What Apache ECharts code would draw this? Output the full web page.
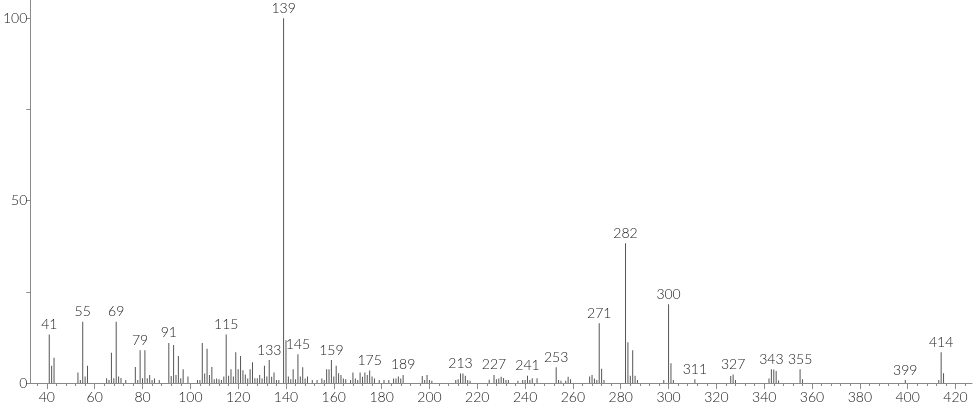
<!DOCTYPE html>
<html>
<head>
<meta charset="utf-8">
<script src="https://cdn.jsdelivr.net/npm/echarts@6/dist/echarts.min.js"></script>
<style>
html,body{margin:0;padding:0;background:#fff;}
#chart{width:974px;height:406px;}
</style>
</head>
<body>
<div id="chart"></div>
<script>
// m/z values and relative intensities
const mz = [41,42,43,53,54,55,56,57,65,66,67,68,69,70,71,73,77,78,79,80,81,82,83,84,85,87,
  91,92,93,94,95,96,97,99,103,104,105,106,107,108,109,110,111,112,113,114,115,116,117,118,119,120,
  121,122,123,124,125,126,127,128,129,130,131,132,133,134,135,136,137,139,140,141,142,143,144,145,
  146,147,148,149,151,153,155,156,157,158,159,160,161,162,163,164,165,167,168,169,170,171,172,173,
  174,175,176,177,179,181,183,185,186,187,188,189,197,198,199,200,201,211,212,213,214,215,216,217,
  225,227,228,229,230,231,232,233,237,239,240,241,242,243,245,253,254,255,257,258,259,267,268,269,
  270,271,272,273,282,283,284,285,286,287,298,300,301,302,311,326,327,328,342,343,344,345,346,355,
  356,399,413,414,415];
const intensity = [13.3,4.7,6.9,2.9,0.8,16.8,1.8,4.7,1.3,0.8,8.3,1.3,16.8,1.8,1.4,0.8,4.4,0.8,9.0,1.3,9.0,1.3,2.2,0.8,1.2,0.8,
  11.0,1.9,10.4,2.2,7.4,1.3,3.8,1.8,0.8,0.8,11.0,2.6,9.4,2.2,4.4,1.0,1.2,1.0,0.8,1.8,13.3,2.0,3.8,1.8,8.4,3.8,
  7.4,3.5,2.3,1.2,3.8,5.7,1.3,1.3,2.2,1.2,4.7,1.8,6.3,1.7,2.9,0.8,0.8,100,11.7,1.8,1.0,3.8,1.0,7.9,
  1.8,4.3,1.2,1.8,0.8,0.8,1.2,0.8,3.8,3.8,6.3,1.8,4.7,2.7,2.2,1.2,1.0,0.8,2.9,1.2,0.8,2.9,1.7,2.9,
  2.2,3.4,1.8,1.2,0.8,0.8,0.8,1.2,1.2,1.8,1.2,2.2,1.9,0.8,2.2,0.8,0.6,0.8,1.0,2.6,2.6,2.0,0.8,0.6,
  0.9,2.2,1.0,1.2,1.7,1.4,0.8,0.8,0.6,0.8,0.8,2.0,0.8,1.3,1.3,4.3,0.8,0.6,0.6,1.7,1.0,1.8,2.2,1.2,
  0.8,16.4,3.9,0.8,38.3,11.2,2.0,9.0,2.0,0.8,0.8,21.6,5.4,0.8,1.0,1.9,2.3,0.8,1.2,3.8,3.7,3.3,0.7,3.8,
  1.0,0.8,0.8,8.4,2.7];
const labeled = [41,55,69,79,91,115,133,139,145,159,175,189,213,227,241,253,271,282,300,311,327,343,355,399,414];
const xTicks = [40,60,80,100,120,140,160,180,200,220,240,260,280,300,320,340,360,380,400,420];
const xMinorTicks = [];
for (let v = 36; v <= 424; v += 4) xMinorTicks.push(v);
const yTicks = [0,25,50,75,100];
const yLabels = [0,50,100];

const FONT = 'Lato';
const textStyle = { fontFamily: FONT, fontSize: 14, fontWeight: 300, color: '#1a1a1a' };
const data = mz.map((m, i) => {
  const item = { value: [m, intensity[i]] };
  if (labeled.indexOf(m) >= 0) {
    item.label = Object.assign({ show: true, position: 'top', distance: 3, formatter: String(m) }, textStyle);
  }
  return item;
});

const xMin = 33.1, xMax = 426.9;
const axisColor = '#8a8a8a';
const chart = echarts.init(document.getElementById('chart'));
chart.setOption({
  animation: false,
  backgroundColor: '#fff',
  grid: { left: 28, right: 2, top: 0, bottom: 23, containLabel: false },
  xAxis: [{
    type: 'value', min: xMin, max: xMax,
    axisLine: { show: true, lineStyle: { color: axisColor, width: 1 } },
    axisTick: { show: true, length: 6, customValues: xTicks, lineStyle: { color: axisColor } },
    axisLabel: Object.assign({ show: true, customValues: xTicks, margin: 7 }, textStyle),
    splitLine: { show: false }
  }, {
    type: 'value', min: xMin, max: xMax, position: 'bottom',
    axisLine: { show: false },
    axisTick: { show: true, length: 3, customValues: xMinorTicks, lineStyle: { color: axisColor } },
    axisLabel: { show: false },
    splitLine: { show: false }
  }],
  yAxis: {
    type: 'value', min: 0, max: 105,
    axisLine: { show: true, lineStyle: { color: axisColor, width: 1 } },
    axisTick: { show: true, length: 4, customValues: yTicks, lineStyle: { color: axisColor } },
    axisLabel: Object.assign({ show: true, customValues: yLabels, margin: 3 }, textStyle),
    splitLine: { show: false }
  },
  series: [{
    type: 'bar', xAxisIndex: 0, yAxisIndex: 0,
    barWidth: 1, barGap: '0%',
    itemStyle: { color: '#555' },
    data: data
  }]
});
</script>
</body>
</html>
